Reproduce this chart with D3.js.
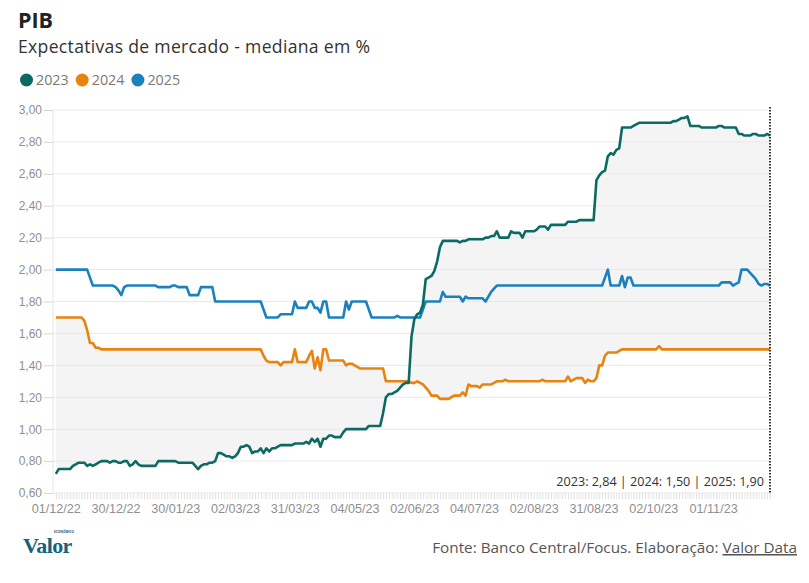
<!DOCTYPE html>
<html>
<head>
<meta charset="utf-8">
<script src="https://cdn.jsdelivr.net/npm/d3@7"></script>
<style>
  html, body { margin: 0; padding: 0; background: #fff; }
  svg { display: block; font-family: "Open Sans", "Noto Sans", sans-serif; }
  .y-axis text { fill: #8f8f8f; font-size: 12px; }
  .x-axis text { fill: #8f8f8f; font-size: 12.6px; }
  .y-axis .domain, .x-axis .domain, .x-minor .domain { display: none; }
  .y-axis .tick line { stroke: #d6d6d6; }
  .x-minor .tick line { stroke: #e2e2e2; }
  .grid line { stroke: #e9e9e9; }
</style>
</head>
<body>
<svg id="chart" width="809" height="583"></svg>
<script>
// ── Data (Focus median, one value per business day, 01/12/22 → 01/12/23) ─────
const tickLabels = ['01/12/22', '30/12/22', '30/01/23', '02/03/23', '31/03/23', '04/05/23',
                    '02/06/23', '04/07/23', '02/08/23', '31/08/23', '02/10/23', '01/11/23'];
const tickEvery  = 21;   // business days between labelled dates
const yTicks     = [0.6, 0.8, 1.0, 1.2, 1.4, 1.6, 1.8, 2.0, 2.2, 2.4, 2.6, 2.8, 3.0];

const series2023 = [
  0.72,0.75,0.75,0.75,0.75,0.75,0.77,0.78,0.79,0.79,0.79,0.77,0.78,0.77,0.78,0.79,0.80,0.80,0.80,0.79,0.80,
  0.80,0.79,0.79,0.80,0.80,0.77,0.78,0.80,0.78,0.77,0.77,0.77,0.77,0.77,0.77,0.80,0.80,0.80,0.80,0.80,0.80,
  0.80,0.79,0.79,0.79,0.79,0.79,0.79,0.77,0.75,0.77,0.78,0.78,0.79,0.79,0.80,0.85,0.85,0.84,0.83,0.83,0.82,
  0.83,0.85,0.89,0.89,0.90,0.89,0.85,0.86,0.86,0.88,0.85,0.88,0.86,0.88,0.88,0.89,0.90,0.90,0.90,0.90,0.90,
  0.91,0.91,0.91,0.91,0.92,0.91,0.94,0.92,0.94,0.89,0.94,0.94,0.96,0.96,0.95,0.95,0.95,0.98,1.00,1.00,1.00,
  1.00,1.00,1.00,1.00,1.00,1.02,1.02,1.02,1.02,1.02,1.10,1.20,1.22,1.22,1.23,1.24,1.26,1.28,1.29,1.29,1.58,
  1.69,1.72,1.73,1.78,1.94,1.95,1.96,1.99,2.05,2.14,2.18,2.18,2.18,2.18,2.18,2.18,2.17,2.18,2.18,2.19,2.19,
  2.19,2.19,2.19,2.19,2.20,2.20,2.21,2.21,2.24,2.20,2.20,2.20,2.20,2.24,2.23,2.23,2.23,2.20,2.24,2.24,2.24,
  2.24,2.25,2.27,2.27,2.27,2.25,2.28,2.28,2.28,2.28,2.28,2.28,2.30,2.30,2.30,2.30,2.31,2.31,2.31,2.31,2.31,
  2.31,2.56,2.59,2.61,2.62,2.71,2.73,2.72,2.75,2.76,2.89,2.89,2.89,2.89,2.90,2.91,2.92,2.92,2.92,2.92,2.92,
  2.92,2.92,2.92,2.92,2.92,2.92,2.92,2.93,2.93,2.94,2.95,2.95,2.96,2.90,2.90,2.90,2.90,2.89,2.89,2.89,2.89,
  2.89,2.89,2.90,2.90,2.89,2.89,2.89,2.89,2.89,2.85,2.85,2.84,2.84,2.84,2.85,2.85,2.84,2.84,2.84,2.85,2.84
];

const series2024 = [
  1.70,1.70,1.70,1.70,1.70,1.70,1.70,1.70,1.70,1.70,1.68,1.62,1.54,1.54,1.51,1.51,1.50,1.50,1.50,1.50,1.50,
  1.50,1.50,1.50,1.50,1.50,1.50,1.50,1.50,1.50,1.50,1.50,1.50,1.50,1.50,1.50,1.50,1.50,1.50,1.50,1.50,1.50,
  1.50,1.50,1.50,1.50,1.50,1.50,1.50,1.50,1.50,1.50,1.50,1.50,1.50,1.50,1.50,1.50,1.50,1.50,1.50,1.50,1.50,
  1.50,1.50,1.50,1.50,1.50,1.50,1.50,1.50,1.50,1.50,1.46,1.43,1.42,1.42,1.42,1.42,1.40,1.42,1.42,1.42,1.42,
  1.50,1.42,1.42,1.42,1.42,1.46,1.49,1.38,1.45,1.37,1.50,1.50,1.43,1.43,1.43,1.43,1.43,1.43,1.40,1.41,1.41,
  1.40,1.39,1.38,1.38,1.38,1.38,1.38,1.38,1.38,1.38,1.38,1.30,1.30,1.30,1.30,1.30,1.30,1.30,1.30,1.30,1.29,
  1.29,1.30,1.29,1.28,1.26,1.24,1.21,1.21,1.21,1.19,1.19,1.19,1.19,1.20,1.21,1.21,1.21,1.23,1.21,1.28,1.27,
  1.27,1.27,1.26,1.28,1.28,1.28,1.28,1.29,1.30,1.30,1.30,1.31,1.30,1.30,1.30,1.30,1.30,1.30,1.30,1.30,1.30,
  1.30,1.30,1.30,1.31,1.30,1.30,1.30,1.30,1.30,1.30,1.30,1.30,1.33,1.30,1.31,1.32,1.32,1.32,1.29,1.31,1.30,
  1.30,1.32,1.40,1.40,1.46,1.48,1.48,1.48,1.48,1.49,1.50,1.50,1.50,1.50,1.50,1.50,1.50,1.50,1.50,1.50,1.50,
  1.50,1.50,1.52,1.50,1.50,1.50,1.50,1.50,1.50,1.50,1.50,1.50,1.50,1.50,1.50,1.50,1.50,1.50,1.50,1.50,1.50,
  1.50,1.50,1.50,1.50,1.50,1.50,1.50,1.50,1.50,1.50,1.50,1.50,1.50,1.50,1.50,1.50,1.50,1.50,1.50,1.50,1.50
];

const series2025 = [
  2.00,2.00,2.00,2.00,2.00,2.00,2.00,2.00,2.00,2.00,2.00,2.00,1.95,1.90,1.90,1.90,1.90,1.90,1.90,1.90,1.90,
  1.89,1.87,1.84,1.89,1.90,1.90,1.90,1.90,1.90,1.90,1.90,1.90,1.90,1.90,1.90,1.89,1.89,1.89,1.89,1.89,1.90,
  1.90,1.89,1.89,1.89,1.89,1.84,1.84,1.84,1.84,1.89,1.89,1.89,1.89,1.89,1.80,1.80,1.80,1.80,1.80,1.80,1.80,
  1.80,1.80,1.80,1.80,1.80,1.80,1.80,1.80,1.80,1.80,1.75,1.70,1.70,1.70,1.70,1.70,1.72,1.72,1.72,1.72,1.72,
  1.80,1.76,1.76,1.76,1.76,1.80,1.80,1.76,1.76,1.73,1.80,1.80,1.70,1.70,1.70,1.70,1.70,1.70,1.80,1.75,1.80,
  1.80,1.80,1.80,1.80,1.80,1.75,1.70,1.70,1.70,1.70,1.70,1.70,1.70,1.70,1.70,1.71,1.70,1.70,1.70,1.70,1.70,
  1.70,1.70,1.70,1.75,1.80,1.80,1.80,1.80,1.80,1.80,1.86,1.83,1.83,1.83,1.83,1.83,1.83,1.80,1.83,1.82,1.82,
  1.82,1.82,1.82,1.82,1.80,1.83,1.86,1.88,1.90,1.90,1.90,1.90,1.90,1.90,1.90,1.90,1.90,1.90,1.90,1.90,1.90,
  1.90,1.90,1.90,1.90,1.90,1.90,1.90,1.90,1.90,1.90,1.90,1.90,1.90,1.90,1.90,1.90,1.90,1.90,1.90,1.90,1.90,
  1.90,1.90,1.90,1.90,1.95,2.00,1.90,1.90,1.90,1.90,1.96,1.89,1.95,1.95,1.90,1.90,1.90,1.90,1.90,1.90,1.90,
  1.90,1.90,1.90,1.90,1.90,1.90,1.90,1.90,1.90,1.90,1.90,1.90,1.90,1.90,1.90,1.90,1.90,1.90,1.90,1.90,1.90,
  1.90,1.90,1.90,1.92,1.92,1.92,1.92,1.90,1.91,1.92,2.00,2.00,2.00,1.98,1.96,1.94,1.91,1.90,1.91,1.91,1.90
];

const seriesNames  = ['2023', '2024', '2025'];
const seriesColors = ['#0d6a63', '#e8830f', '#1a81bd'];

// ── Layout ────────────────────────────────────────────────────────────────────
const svg    = d3.select('#chart');
const plotL  = 53, plotR = 770, plotT = 110, plotB = 493;
const n      = series2023.length;

const x = d3.scaleLinear().domain([-1, n - 1]).range([plotL, plotR]);
const y = d3.scaleLinear().domain([0.6, 3.0]).range([plotB, plotT]);

const fmt = v => d3.format('.2f')(v).replace('.', ',');

// ── Header ────────────────────────────────────────────────────────────────────
svg.append('text').attr('x', 18).attr('y', 27.5)
  .attr('font-size', 21.5).attr('font-weight', 700).attr('fill', '#222').text('PIB');
svg.append('text').attr('x', 18).attr('y', 52.8)
  .attr('font-size', 17.6).attr('letter-spacing', 0.3).attr('fill', '#333')
  .text('Expectativas de mercado - mediana em %');

const legend = svg.append('g').attr('transform', 'translate(0,80)');
let lx = 26.5;
seriesNames.forEach((name, i) => {
  legend.append('circle').attr('cx', lx).attr('cy', 0).attr('r', 6.5).attr('fill', seriesColors[i]);
  const t = legend.append('text').attr('x', lx + 9.5).attr('y', 5)
    .attr('font-size', 14.3).attr('fill', '#7a7a7a').text(name);
  lx += t.node().getComputedTextLength() + 23;
});

// ── Band between 2023 and 2024 ────────────────────────────────────────────────
svg.append('path')
  .datum(series2023.map((v, i) => [i, v, series2024[i]]))
  .attr('fill', '#f4f4f4')
  .attr('d', d3.area().x(d => x(d[0])).y0(d => y(d[1])).y1(d => y(d[2])));

// ── Grid & axes ───────────────────────────────────────────────────────────────
svg.append('g').attr('class', 'grid')
  .selectAll('line').data(yTicks).join('line')
  .attr('x1', plotL).attr('x2', plotR)
  .attr('y1', d => y(d)).attr('y2', d => y(d));

svg.append('line').attr('x1', plotL).attr('x2', plotL).attr('y1', plotT).attr('y2', plotB)
  .attr('stroke', '#e6e6e6');

svg.append('g').attr('class', 'y-axis')
  .attr('transform', `translate(${plotL},0)`)
  .call(d3.axisLeft(y).tickValues(yTicks).tickSize(9).tickPadding(2).tickFormat(fmt));

svg.append('g').attr('class', 'x-minor')
  .attr('transform', `translate(0,${plotB})`)
  .call(d3.axisBottom(x).tickValues(series2023.map((v, i) => i)).tickSize(6).tickFormat(''));

svg.append('g').attr('class', 'x-axis')
  .attr('transform', `translate(0,${plotB})`)
  .call(d3.axisBottom(x)
    .tickValues(tickLabels.map((t, i) => i * tickEvery))
    .tickSize(0).tickPadding(11)
    .tickFormat((d, i) => tickLabels[i]));

// ── Lines ─────────────────────────────────────────────────────────────────────
const line = d3.line().x((d, i) => x(i)).y(d => y(d));
[series2025, series2024, series2023].forEach((s, k) => {
  svg.append('path').datum(s)
    .attr('fill', 'none')
    .attr('stroke', seriesColors[2 - k])
    .attr('stroke-width', 2.6)
    .attr('stroke-linejoin', 'round')
    .attr('d', line);
});

// ── Last value marker ─────────────────────────────────────────────────────────
svg.append('line')
  .attr('x1', x(n - 1)).attr('x2', x(n - 1)).attr('y1', plotT - 3).attr('y2', plotB)
  .attr('stroke', '#333').attr('stroke-width', 2).attr('stroke-dasharray', '1.5,1.5');

const last = [series2023, series2024, series2025].map(s => s[s.length - 1]);
svg.append('text')
  .attr('x', x(n - 1) - 6).attr('y', 486)
  .attr('text-anchor', 'end').attr('font-size', 12.6).attr('fill', '#333')
  .text(seriesNames.map((s, i) => `${s}: ${fmt(last[i])}`).join(' | '));

// ── Footer ────────────────────────────────────────────────────────────────────
svg.append('text').attr('x', 23).attr('y', 553)
  .attr('font-family', '"Liberation Serif", "DejaVu Serif", serif')
  .attr('font-size', 22).attr('font-weight', 700).attr('letter-spacing', -0.6)
  .attr('fill', '#15627a').text('Valor');
svg.append('text').attr('x', 54).attr('y', 532.5)
  .attr('font-size', 3.2).attr('font-weight', 700).attr('fill', '#15627a').text('ECONÔMICO');

const src = svg.append('text').attr('x', 797).attr('y', 553)
  .attr('text-anchor', 'end').attr('font-size', 15.3).attr('fill', '#555');
src.append('tspan').text('Fonte: Banco Central/Focus. Elaboração: ');
src.append('tspan').attr('text-decoration', 'underline').text('Valor Data');
</script>
</body>
</html>
